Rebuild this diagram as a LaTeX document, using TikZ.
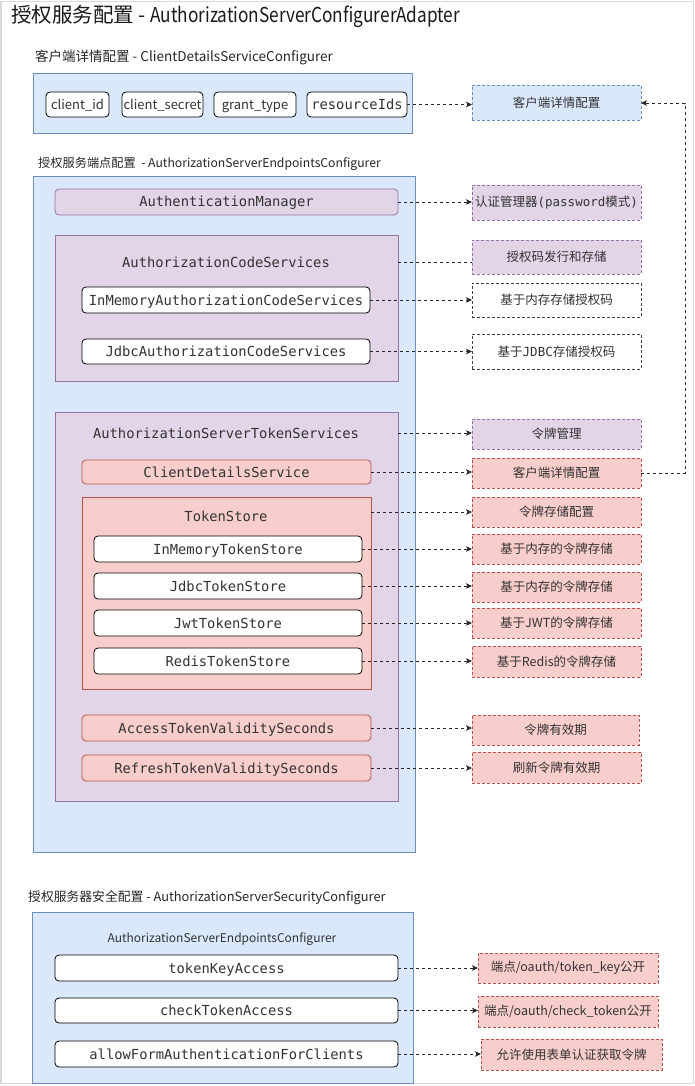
\documentclass[tikz,border=0pt]{standalone}
\usepackage{fontspec}
\setmainfont{Noto Sans CJK SC}
\setmonofont{DejaVu Sans Mono}
\newfontfamily\titlelatin[FakeStretch=0.84]{Noto Sans CJK SC}
\usetikzlibrary{arrows.meta}
\definecolor{blueF}{HTML}{DAE8FC}
\definecolor{blueD}{HTML}{6C8EBF}
\definecolor{purpF}{HTML}{E1D5E7}
\definecolor{purpD}{HTML}{9673A6}
\definecolor{redF}{HTML}{F8CECC}
\definecolor{redD}{HTML}{B85450}
\definecolor{txt}{HTML}{333333}
\definecolor{framec}{HTML}{D9D9D9}
\newcommand{\bx}[7]{\node[#2,anchor=north west,minimum width={(#5-#3)*1pt},minimum height={(#6-#4)*1pt}] (#1) at (#3,#4) {#7};}
\tikzset{
  base/.style={inner sep=0pt, outer sep=0pt, text=txt, line width=0.8pt},
  grpblue/.style={base, draw=blueD, fill=blueF},
  grppurp/.style={base, draw=purpD, fill=purpF},
  grpred/.style={base, draw=redD, fill=redF},
  monof/.style={font=\fontsize{13.8}{16}\selectfont\ttfamily, text height=13pt, text depth=3pt},
  sansf/.style={font=\fontsize{13}{16}\selectfont, text height=12pt, text depth=2.6pt},
  whiteS/.style={base, draw=black, fill=white, rounded corners=4pt, sansf},
  whiteM/.style={base, draw=black, fill=white, rounded corners=4pt, monof},
  purpR/.style={base, draw=purpD, fill=purpF, rounded corners=4pt, monof},
  redR/.style={base, draw=redD, fill=redF, rounded corners=4pt, monof},
  rlab/.style={base, dashed, dash pattern=on 3pt off 2pt, font=\fontsize{12.5}{15}\selectfont},
  rblue/.style={rlab, draw=blueD, fill=blueF},
  rpurp/.style={rlab, draw=purpD, fill=purpF},
  rred/.style={rlab, draw=redD, fill=redF},
  rwhite/.style={rlab, draw=black!75, fill=white},
  seclab/.style={inner sep=0pt, anchor=west, text=black!85},
  inlab/.style={inner sep=0pt, text=txt, monof},
  conn/.style={draw=black!85, line width=0.8pt, dash pattern=on 3pt off 3pt, -{Stealth[length=6pt,width=5.5pt,inset=1.5pt]}},
  connn/.style={draw=black!85, line width=0.8pt, dash pattern=on 3pt off 3pt},
}
\begin{document}
\begin{tikzpicture}[x=1pt,y=-1pt]
\useasboundingbox (0,0) rectangle (695,1086);
\draw[framec, line width=1.6pt] (1,1.5) rectangle (693.5,1083.5);
% title
\node[inner sep=0pt, anchor=west, text=black!90, font=\fontsize{20.5}{24}\selectfont] (title) at (11,16) {授权服务配置 - {\titlelatin AuthorizationServerConfigurerAdapter}};
% section 1
\node[seclab, font=\fontsize{13.5}{16}\selectfont] (l1) at (35,57) {客户端详情配置 - ClientDetailsServiceConfigurer};
\bx{g1}{grpblue}{33}{73}{412}{133}{}
\bx{cid}{whiteS}{46}{92}{109}{117}{client\_id}
\bx{csec}{whiteS}{122}{92}{203}{117}{client\_secret}
\bx{gt}{whiteS}{214}{92}{296}{117}{grant\_type}
\bx{rid}{whiteM}{307}{92}{407}{117}{resourceIds}
\bx{r1}{rblue}{472}{85}{641}{120}{客户端详情配置}
% section 2
\node[seclab, font=\fontsize{12.2}{15}\selectfont] (l2) at (38,164) {授权服务端点配置 \ - AuthorizationServerEndpointsConfigurer};
\bx{g2}{grpblue}{33}{176}{415}{852}{}
\bx{am}{purpR}{55}{189}{398}{215}{AuthenticationManager}
\bx{r2}{rpurp}{472}{185}{641}{220}{认证管理器\texttt{(password}模式\texttt{)}}
\bx{acs}{grppurp}{55}{235}{398}{381}{}
\node[inlab] (acsl) at (226,262) {AuthorizationCodeServices};
\bx{r3}{rpurp}{472}{240}{641}{274}{授权码发行和存储}
\bx{imacs}{whiteM}{82}{287}{370}{313}{InMemoryAuthorizationCodeServices}
\bx{r4}{rwhite}{472}{283}{641}{317}{基于内存存储授权码}
\bx{jacs}{whiteM}{82}{339}{370}{364}{JdbcAuthorizationCodeServices}
\bx{r5}{rwhite}{472}{334}{641}{369}{基于\texttt{JDBC}存储授权码}
\bx{asts}{grppurp}{55}{412}{398}{801}{}
\node[inlab] (astsl) at (226,433) {AuthorizationServerTokenServices};
\bx{r6}{rpurp}{472}{419}{641}{449}{令牌管理}
\bx{cds}{redR}{82}{460}{371}{484}{ClientDetailsService}
\bx{r7}{rred}{472}{458}{641}{488}{客户端详情配置}
\bx{ts}{grpred}{82}{497}{371}{689}{}
\node[inlab] (tsl) at (226,516) {TokenStore};
\bx{r8}{rred}{472}{497}{641}{527}{令牌存储配置}
\bx{imts}{whiteM}{94}{536}{362}{562}{InMemoryTokenStore}
\bx{r9}{rred}{472}{534}{641}{564}{基于内存的令牌存储}
\bx{jts}{whiteM}{94}{573}{362}{599}{JdbcTokenStore}
\bx{r10}{rred}{472}{572}{641}{602}{基于内存的令牌存储}
\bx{jwts}{whiteM}{94}{610}{362}{636}{JwtTokenStore}
\bx{r11}{rred}{472}{608}{641}{638}{基于JWT的令牌存储}
\bx{rts}{whiteM}{94}{648}{362}{674}{RedisTokenStore}
\bx{r12}{rred}{472}{646}{641}{677}{基于Redis的令牌存储}
\bx{atvs}{redR}{82}{715}{371}{741}{AccessTokenValiditySeconds}
\bx{r13}{rred}{472}{715}{639}{745}{令牌有效期}
\bx{rtvs}{redR}{82}{755}{371}{781}{RefreshTokenValiditySeconds}
\bx{r14}{rred}{472}{752}{641}{783}{刷新令牌有效期}
% section 3
\node[seclab, font=\fontsize{12.8}{15}\selectfont] (l3) at (28,898) {授权服务器安全配置 - AuthorizationServerSecurityConfigurer};
\bx{g3}{grpblue}{32}{912}{413}{1083}{}
\node[inner sep=0pt, text=txt, font=\fontsize{12}{14}\selectfont] (g3l) at (222,939) {AuthorizationServerEndpointsConfigurer};
\bx{tka}{whiteM}{55}{955}{398}{981}{tokenKeyAccess}
\bx{r15}{rred}{478}{953}{658}{983}{端点/oauth/token\_key公开}
\bx{cta}{whiteM}{55}{998}{398}{1023}{checkTokenAccess}
\bx{r16}{rred}{478}{996}{658}{1027}{端点/oauth/check\_token公开}
\bx{afa}{whiteM}{55}{1041}{398}{1067}{allowFormAuthenticationForClients}
\bx{r17}{rred}{481}{1039}{662}{1070}{允许使用表单认证获取令牌}
% connectors
\draw[conn] (rid.east) -- (rid.east -| r1.west);
\draw[conn] (am.east) -- (am.east -| r2.west);
\draw[connn] (acsl -| acs.east) -- (acsl -| r3.west);
\draw[conn] (imacs.east) -- (imacs.east -| r4.west);
\draw[conn] (jacs.east) -- (jacs.east -| r5.west);
\draw[conn] (astsl -| asts.east) -- (astsl -| r6.west);
\draw[conn] (cds.east) -- (cds.east -| r7.west);
\draw[conn] (r8.west -| ts.east) -- (r8.west);
\draw[conn] (imts.east) -- (imts.east -| r9.west);
\draw[conn] (jts.east) -- (jts.east -| r10.west);
\draw[conn] (jwts.east) -- (jwts.east -| r11.west);
\draw[conn] (rts.east) -- (rts.east -| r12.west);
\draw[conn] (atvs.east) -- (atvs.east -| r13.west);
\draw[conn] (rtvs.east) -- (rtvs.east -| r14.west);
\draw[conn] (tka.east) -- (tka.east -| r15.west);
\draw[conn] (cta.east) -- (cta.east -| r16.west);
\draw[conn] (afa.east) -- (afa.east -| r17.west);
\coordinate (bend1) at (685,473);
\coordinate (bend2) at (685,103);
\draw[conn] (r7.east) -- (r7.east -| bend1) -- (bend2) -- (bend2 -| r1.east);
\end{tikzpicture}
\end{document}
